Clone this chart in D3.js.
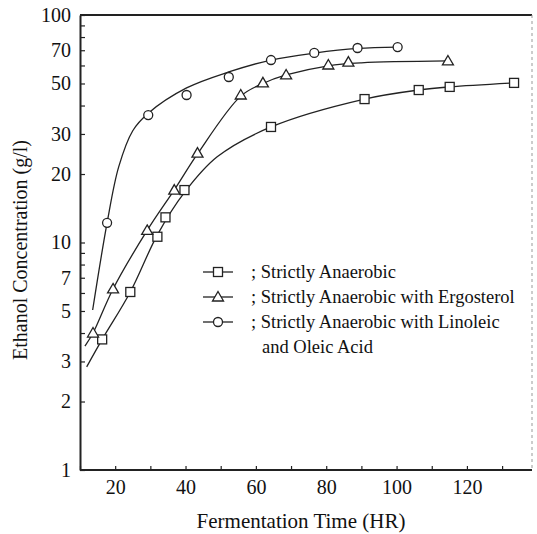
<!DOCTYPE html>
<html>
<head>
<meta charset="utf-8">
<script src="https://cdn.jsdelivr.net/npm/d3@7"></script>
<style>
  body { margin: 0; background: #fff; }
  svg { display: block; }
  text { font-family: "Liberation Serif", "Times New Roman", serif; fill: #111; }
</style>
</head>
<body>
<div id="chart"></div>
<script>
// markers
const squareX = [16.3, 24.3, 32, 34.3, 39.7, 64.3, 90.9, 106.3, 115.1, 133.4];
const squareY = [3.75, 6.06, 10.6, 12.9, 17.0, 32.2, 42.7, 46.8, 48.3, 50.3];
const triangleX = [13.7, 19.4, 29.1, 36.8, 43.4, 55.7, 62, 68.6, 80.6, 86.3, 114.6];
const triangleY = [4.0, 6.25, 11.3, 17.0, 24.7, 44.5, 50.3, 54.5, 60.3, 62.1, 62.8];
const circleX = [17.7, 29.4, 40.3, 52.3, 64.3, 76.6, 88.9, 100.3];
const circleY = [12.2, 36.3, 44.5, 53.4, 63.4, 68.1, 71.6, 72.3];

// fitted curves
const squareCurveX = [11.9, 16.3, 24.3, 32, 39.7, 49, 64.3, 90.9, 106.3, 115.1, 133.4];
const squareCurveY = [2.84, 3.75, 6.06, 10.8, 16.6, 23.8, 32.2, 42.7, 46.8, 48.3, 50.3];
const triangleCurveX = [11.4, 13.7, 19.4, 29.1, 37, 43.4, 55.7, 62, 68.6, 80.6, 90, 114.6];
const triangleCurveY = [3.5, 4.0, 6.25, 11.3, 17.2, 24.5, 44, 50, 54.5, 59.8, 61.6, 62.8];
const circleCurveX = [13.6, 17.7, 21, 25, 29.4, 40.3, 52.3, 64.3, 76.6, 88.9, 100.3];
const circleCurveY = [5.05, 12.2, 21.5, 31, 37, 47.8, 56.2, 63.4, 68, 71.3, 72.3];

const xTicks = d3.range(10, 131, 10);
const xLabels = [20, 40, 60, 80, 100, 120];
const yTicks = d3.range(1, 10).concat(d3.range(10, 101, 10));
const yLabels = [1, 2, 3, 5, 7, 10, 20, 30, 50, 70, 100];

const legendLabels = ["; Strictly Anaerobic", "; Strictly Anaerobic with Ergosterol", "; Strictly Anaerobic with Linoleic"];

const width = 537, height = 534;
const margin = { top: 15, right: 5, bottom: 64, left: 80 };

const svg = d3.select("#chart").append("svg")
  .attr("width", width)
  .attr("height", height);

const x = d3.scaleLinear().domain([10, 138.5]).range([margin.left, width - margin.right]);
const y = d3.scaleLog().domain([1, 100]).range([height - margin.bottom, margin.top]);

// frame: top and right
svg.append("line")
  .attr("x1", x(10)).attr("x2", x(138.5))
  .attr("y1", y(100)).attr("y2", y(100))
  .attr("stroke", "#222").attr("stroke-width", 2);
svg.append("line")
  .attr("x1", x(138.5)).attr("x2", x(138.5))
  .attr("y1", y(100)).attr("y2", y(1))
  .attr("stroke", "#999").attr("stroke-width", 1)
  .attr("stroke-dasharray", "3,3");

const yAxis = d3.axisLeft(y)
  .tickValues(yTicks)
  .tickSizeInner(-5).tickSizeOuter(0).tickPadding(9)
  .tickFormat(d => yLabels.includes(d) ? d : "");
const gy = svg.append("g")
  .attr("transform", `translate(${margin.left},0)`)
  .call(yAxis);
gy.select(".domain").attr("stroke", "#222").attr("stroke-width", 2);
gy.selectAll(".tick line").attr("stroke", "#222").attr("stroke-width", 1.2);
gy.selectAll(".tick text").style("font-size", "20px").attr("fill", "#111");

const xAxis = d3.axisBottom(x)
  .tickValues(xTicks)
  .tickSizeInner(-4).tickSizeOuter(0).tickPadding(10)
  .tickFormat(d => xLabels.includes(d) ? d : "");
const gx = svg.append("g")
  .attr("transform", `translate(0,${height - margin.bottom})`)
  .call(xAxis);
gx.select(".domain").attr("stroke", "#222").attr("stroke-width", 2)
  .attr("d", `M${x(10)},0H${x(138.5)}`);
gx.selectAll(".tick line").attr("stroke", "#222").attr("stroke-width", 1.2);
gx.selectAll(".tick text").style("font-size", "20px").attr("fill", "#111");

// axis titles
svg.append("text")
  .attr("text-anchor", "middle")
  .attr("transform", "translate(27,250) rotate(-90)")
  .style("font-size", "20px")
  .text("Ethanol Concentration (g/l)");
svg.append("text")
  .attr("text-anchor", "middle")
  .attr("x", 301).attr("y", 528)
  .style("font-size", "21px")
  .text("Fermentation Time (HR)");

const line = d3.line()
  .x(d => x(d[0]))
  .y(d => y(d[1]))
  .curve(d3.curveCatmullRom.alpha(0.5));

const curves = [
  d3.zip(squareCurveX, squareCurveY),
  d3.zip(triangleCurveX, triangleCurveY),
  d3.zip(circleCurveX, circleCurveY)
];
svg.selectAll(".curve")
  .data(curves)
  .join("path")
  .attr("class", "curve")
  .attr("d", line)
  .attr("fill", "none")
  .attr("stroke", "#222")
  .attr("stroke-width", 1.3);

function drawSquare(g, cx, cy) {
  g.append("rect")
    .attr("x", cx - 4.5).attr("y", cy - 4.5)
    .attr("width", 9).attr("height", 9)
    .attr("fill", "#fff").attr("stroke", "#222").attr("stroke-width", 1.3);
}
function drawTriangle(g, cx, cy) {
  g.append("path")
    .attr("d", `M${cx},${cy - 5.5}L${cx + 5.5},${cy + 4}L${cx - 5.5},${cy + 4}Z`)
    .attr("fill", "#fff").attr("stroke", "#222").attr("stroke-width", 1.3);
}
function drawCircle(g, cx, cy) {
  g.append("circle")
    .attr("cx", cx).attr("cy", cy).attr("r", 4.5)
    .attr("fill", "#fff").attr("stroke", "#222").attr("stroke-width", 1.3);
}

const marks = svg.append("g");
d3.zip(squareX, squareY).forEach(d => drawSquare(marks, x(d[0]), y(d[1])));
d3.zip(triangleX, triangleY).forEach(d => drawTriangle(marks, x(d[0]), y(d[1])));
d3.zip(circleX, circleY).forEach(d => drawCircle(marks, x(d[0]), y(d[1])));

// legend
const legend = svg.append("g");
const drawers = [drawSquare, drawTriangle, drawCircle];
legendLabels.forEach((label, i) => {
  const ly = 272 + i * 25;
  legend.append("line")
    .attr("x1", 203).attr("x2", 233)
    .attr("y1", ly).attr("y2", ly)
    .attr("stroke", "#222").attr("stroke-width", 1.3);
  drawers[i](legend, 218, ly);
  legend.append("text")
    .attr("x", 251).attr("y", ly + 6)
    .style("font-size", "18.5px")
    .text(label);
});
legend.append("text")
  .attr("x", 262).attr("y", 272 + 3 * 25 + 6)
  .style("font-size", "18.5px")
  .text("and Oleic Acid");
</script>
</body>
</html>
